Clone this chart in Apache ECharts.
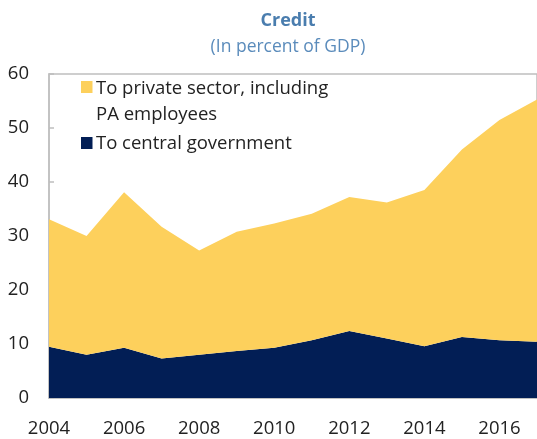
<!DOCTYPE html>
<html><head><meta charset="utf-8">
<script src="https://cdn.jsdelivr.net/npm/echarts@6/dist/echarts.min.js"></script>
<style>html,body{margin:0;padding:0;background:#fff}#c{width:537px;height:439px}</style>
</head><body><div id="c"></div>
<script>
const years = ['2004','2005','2006','2007','2008','2009','2010','2011','2012','2013','2014','2015','2016','2017'];
const centralGov = [9.5, 8.0, 9.3, 7.3, 8.0, 8.7, 9.3, 10.7, 12.4, 11.0, 9.6, 11.3, 10.7, 10.4];
const privateSector = [23.6, 22.0, 28.8, 24.4, 19.3, 22.1, 23.0, 23.4, 24.8, 25.2, 28.9, 34.7, 40.8, 44.9];
const yTicks = [0, 10, 20, 30, 40, 50, 60];
const names = ['To private sector, including\nPA employees', 'To central government'];
const YELLOW = '#FDD05C', NAVY = '#021E55';
const FONT = 'Open Sans';

const chart = echarts.init(document.getElementById('c'), null, {renderer: 'canvas'});
chart.setOption({
  animation: false,
  title: [
    {text: 'Credit', left: 283, top: 7, textAlign: 'center',
     textStyle: {color: '#4A7DAE', fontFamily: FONT, fontSize: 18, fontWeight: 'bold'}},
    {text: '(In percent of GDP)', left: 283, top: 33, textAlign: 'center',
     textStyle: {color: '#5A8BBB', fontFamily: FONT, fontSize: 17.5, fontWeight: 'normal'}}
  ],
  grid: {left: 49, right: -3, top: 74, bottom: 41, show: true, borderColor: '#BFBFBF', borderWidth: 1.5, containLabel: false},
  xAxis: {
    type: 'category', data: years, boundaryGap: false,
    axisLine: {show: true, lineStyle: {color: '#BFBFBF', width: 1.5}},
    axisTick: {show: true, inside: true, length: 7, interval: 1, lineStyle: {color: '#BFBFBF', width: 1.5}},
    axisLabel: {interval: 1, color: '#222', fontFamily: FONT, fontSize: 18.5, margin: 21},
    splitLine: {show: false}
  },
  yAxis: {
    type: 'value', min: yTicks[0], max: yTicks[yTicks.length - 1], interval: 10,
    axisLine: {show: true, lineStyle: {color: '#BFBFBF', width: 1.5}},
    axisTick: {show: true, inside: true, length: 5, lineStyle: {color: '#BFBFBF', width: 1.5}},
    axisLabel: {color: '#222', fontFamily: FONT, fontSize: 18.5, margin: 20},
    splitLine: {show: false}
  },
  series: [
    {name: names[1], type: 'line', stack: 't', data: centralGov, symbol: 'none',
     lineStyle: {width: 0}, areaStyle: {color: NAVY, opacity: 1}, itemStyle: {color: NAVY}, z: 2},
    {name: names[0], type: 'line', stack: 't', data: privateSector, symbol: 'none',
     lineStyle: {width: 0}, areaStyle: {color: YELLOW, opacity: 1}, itemStyle: {color: YELLOW}, z: 2}
  ],
  graphic: [
    {type: 'rect', shape: {x: 81, y: 81, width: 11.5, height: 12}, style: {fill: YELLOW}},
    {type: 'text', x: 96, y: 76, style: {text: names[0], font: '18.5px "' + FONT + '"', fill: '#222', lineHeight: 26}},
    {type: 'rect', shape: {x: 81, y: 137, width: 11.5, height: 12}, style: {fill: NAVY}},
    {type: 'text', x: 96, y: 131, style: {text: names[1], font: '18.5px "' + FONT + '"', fill: '#222', lineHeight: 26}}
  ]
});
</script></body></html>
